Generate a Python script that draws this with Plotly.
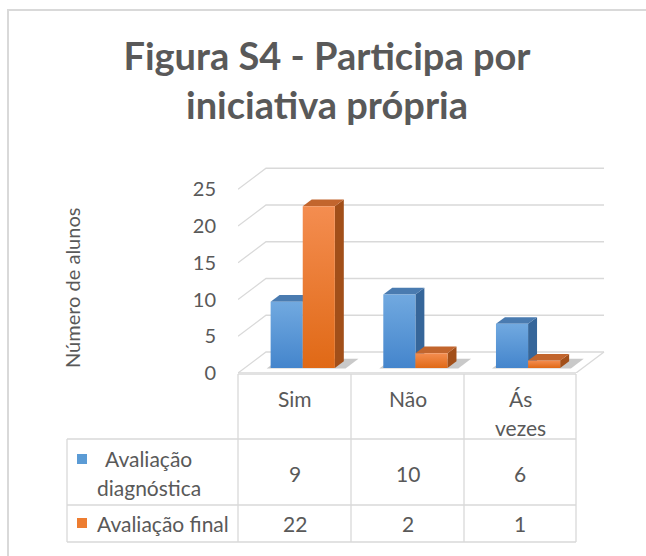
import plotly.graph_objects as go

# ---------------- data ----------------
categories = ["Sim", "Não", "Ás vezes"]
series_names = ["Avaliação diagnóstica", "Avaliação final"]
diagnostica = [9, 10, 6]
final = [22, 2, 1]
y_ticks = [0, 5, 10, 15, 20, 25]

# ---------------- geometry (pixels of the 646x556 canvas) ----------------
W, H = 646, 556
L, R, T, B = 238, 610, 150, 373          # plot area box
PX_PER_CAT = (576 - 238) / 3.0
PX_PER_UNIT = 7.35
x_range = [-0.5, -0.5 + (R - L) / PX_PER_CAT]
y_range = [0, (B - T) / PX_PER_UNIT]
wall_dx = 28 / PX_PER_CAT                # depth offset of the back wall
wall_dy = 21 / PX_PER_UNIT
D0, D1 = 0.24, 0.56                      # bar depth (fraction of floor depth)
BAR_W = 0.285
GROUP_SHIFT = 0.015

FONT = "Lato"
TXT = "#595959"
GRID = "#d9d9d9"

def proj(x, v, d):
    return x + d * wall_dx, v + d * wall_dy

def poly(points):
    xs = [p[0] for p in points] + [points[0][0]]
    ys = [p[1] for p in points] + [points[0][1]]
    return xs, ys

def xp(px):
    return (px - L) / (R - L)

def yp(py):
    return (B - py) / (B - T)

fig = go.Figure()

# ---------------- back wall / floor grid ----------------
gx, gy = [], []
for t in y_ticks:
    for (x, v, d) in [(-0.5, t, 0), (-0.5, t, 1), (2.5, t, 1)]:
        px_, py_ = proj(x, v, d)
        gx.append(px_); gy.append(py_)
    gx.append(None); gy.append(None)
for (x, v, d) in [(-0.5, 0, 0), (2.5, 0, 0), (2.5, 0, 1)]:
    px_, py_ = proj(x, v, d)
    gx.append(px_); gy.append(py_)
fig.add_trace(go.Scatter(x=gx, y=gy, mode="lines", line=dict(color=GRID, width=1.3),
                         hoverinfo="skip", showlegend=False))

# ---------------- bars (pseudo 3D) ----------------
styles = [
    dict(front=[[0, "#4485cc"], [1, "#71a9e0"]], side="#36669a", top="#4a7bb0"),
    dict(front=[[0, "#e06916"], [1, "#f48d50"]], side="#a24f19", top="#c2652d"),
]
series_vals = [diagnostica, final]

for i, cat in enumerate(categories):
    # soft shadow on floor
    gx0 = i - BAR_W + GROUP_SHIFT - 0.03
    gx1 = i + BAR_W + GROUP_SHIFT + 0.10
    sx, sy = poly([proj(gx0, 0, D0 - 0.02), proj(gx1, 0, D0 - 0.02),
                   proj(gx1, 0, D1 + 0.12), proj(gx0, 0, D1 + 0.12)])
    fig.add_trace(go.Scatter(x=sx, y=sy, fill="toself", mode="lines",
                             line=dict(width=0), fillcolor="rgba(60,60,60,0.28)",
                             hoverinfo="skip", showlegend=False))
    for s, vals in enumerate(series_vals):
        v = vals[i]
        x0 = i + GROUP_SHIFT - BAR_W + s * BAR_W
        x1 = x0 + BAR_W
        st = styles[s]
        # side face
        sx, sy = poly([proj(x1, 0, D0), proj(x1, 0, D1), proj(x1, v, D1), proj(x1, v, D0)])
        fig.add_trace(go.Scatter(x=sx, y=sy, fill="toself", mode="lines",
                                 line=dict(width=0), fillcolor=st["side"],
                                 hoverinfo="skip", showlegend=False))
        # top face
        sx, sy = poly([proj(x0, v, D0), proj(x1, v, D0), proj(x1, v, D1), proj(x0, v, D1)])
        fig.add_trace(go.Scatter(x=sx, y=sy, fill="toself", mode="lines",
                                 line=dict(width=0), fillcolor=st["top"],
                                 hoverinfo="skip", showlegend=False))
        # front face
        sx, sy = poly([proj(x0, 0, D0), proj(x1, 0, D0), proj(x1, v, D0), proj(x0, v, D0)])
        fig.add_trace(go.Scatter(x=sx, y=sy, fill="toself", mode="lines",
                                 line=dict(width=0),
                                 fillgradient=dict(type="vertical", colorscale=st["front"]),
                                 name=series_names[s], hovertext=f"{cat}: {v}",
                                 hoverinfo="text", showlegend=False))

# ---------------- data table ----------------
shapes = []
def hline(px0, px1, py):
    shapes.append(dict(type="line", xref="paper", yref="paper", x0=xp(px0), x1=xp(px1),
                       y0=yp(py), y1=yp(py), line=dict(color=GRID, width=1.3)))
def vline(px, py0, py1):
    shapes.append(dict(type="line", xref="paper", yref="paper", x0=xp(px), x1=xp(px),
                       y0=yp(py0), y1=yp(py1), line=dict(color=GRID, width=1.3)))

col_edges = [238, 351, 464, 576]
TBL_TOP, ROW1, ROW2, TBL_BOT, TBL_LEFT = 374, 439, 505, 542, 67
hline(238, 576, TBL_TOP)
for py in (ROW1, ROW2, TBL_BOT):
    hline(TBL_LEFT, 576, py)
for px in col_edges:
    vline(px, TBL_TOP, TBL_BOT)
vline(TBL_LEFT, ROW1, TBL_BOT)

# legend keys
for py, col in [(459, "#5b9bd5"), (523, "#ed7d31")]:
    shapes.append(dict(type="rect", xref="paper", yref="paper", x0=xp(77), x1=xp(87),
                       y0=yp(py - 5), y1=yp(py + 5), line=dict(width=0), fillcolor=col))

# outer chart border
shapes.append(dict(type="rect", xref="paper", yref="paper", x0=xp(8), x1=xp(700),
                   y0=yp(10), y1=yp(620), line=dict(color=GRID, width=2), layer="below"))

annotations = []
def text(s, px, py, size=21, **kw):
    annotations.append(dict(text=s, x=xp(px), y=yp(py), xref="paper", yref="paper",
                            showarrow=False, xanchor="center", yanchor="middle",
                            font=dict(family=FONT, size=size, color=TXT), **kw))

centers = [(col_edges[k] + col_edges[k + 1]) / 2 for k in range(3)]
header_lines = [["Sim"], ["Não"], ["Ás", "vezes"]]
for k, lines in enumerate(header_lines):
    for j, ln in enumerate(lines):
        text(ln, centers[k], 398 + 29 * j)

text("Avaliação", 148, 458)
text("diagnóstica", 149, 487)
text("Avaliação final", 163, 523)
for k in range(3):
    text(str(diagnostica[k]), centers[k], 473)
    text(str(final[k]), centers[k], 523)

# axis title
text("Número de alunos", 72, 288, size=20, textangle=-90)

fig.update_layout(
    width=W, height=H, autosize=False,
    margin=dict(l=L, r=W - R, t=T, b=H - B, pad=0),
    paper_bgcolor="white", plot_bgcolor="rgba(0,0,0,0)",
    title=dict(text="Figura S4 - Participa por<br>iniciativa própria",
               x=327 / W, xref="container", xanchor="center",
               y=1 - 70 / H, yref="container", yanchor="top",
               font=dict(family=FONT, size=38, color=TXT, weight="bold")),
    xaxis=dict(range=x_range, visible=False, fixedrange=True),
    yaxis=dict(range=y_range, tickvals=y_ticks, showgrid=False, zeroline=False,
               showline=False, ticks="", ticklabelstandoff=21,
               tickfont=dict(family=FONT, size=20, color=TXT), fixedrange=True),
    shapes=shapes, annotations=annotations, showlegend=False,
)

fig.write_html("out.html", config={"displayModeBar": False},
               post_script="document.body.style.margin='0';")
